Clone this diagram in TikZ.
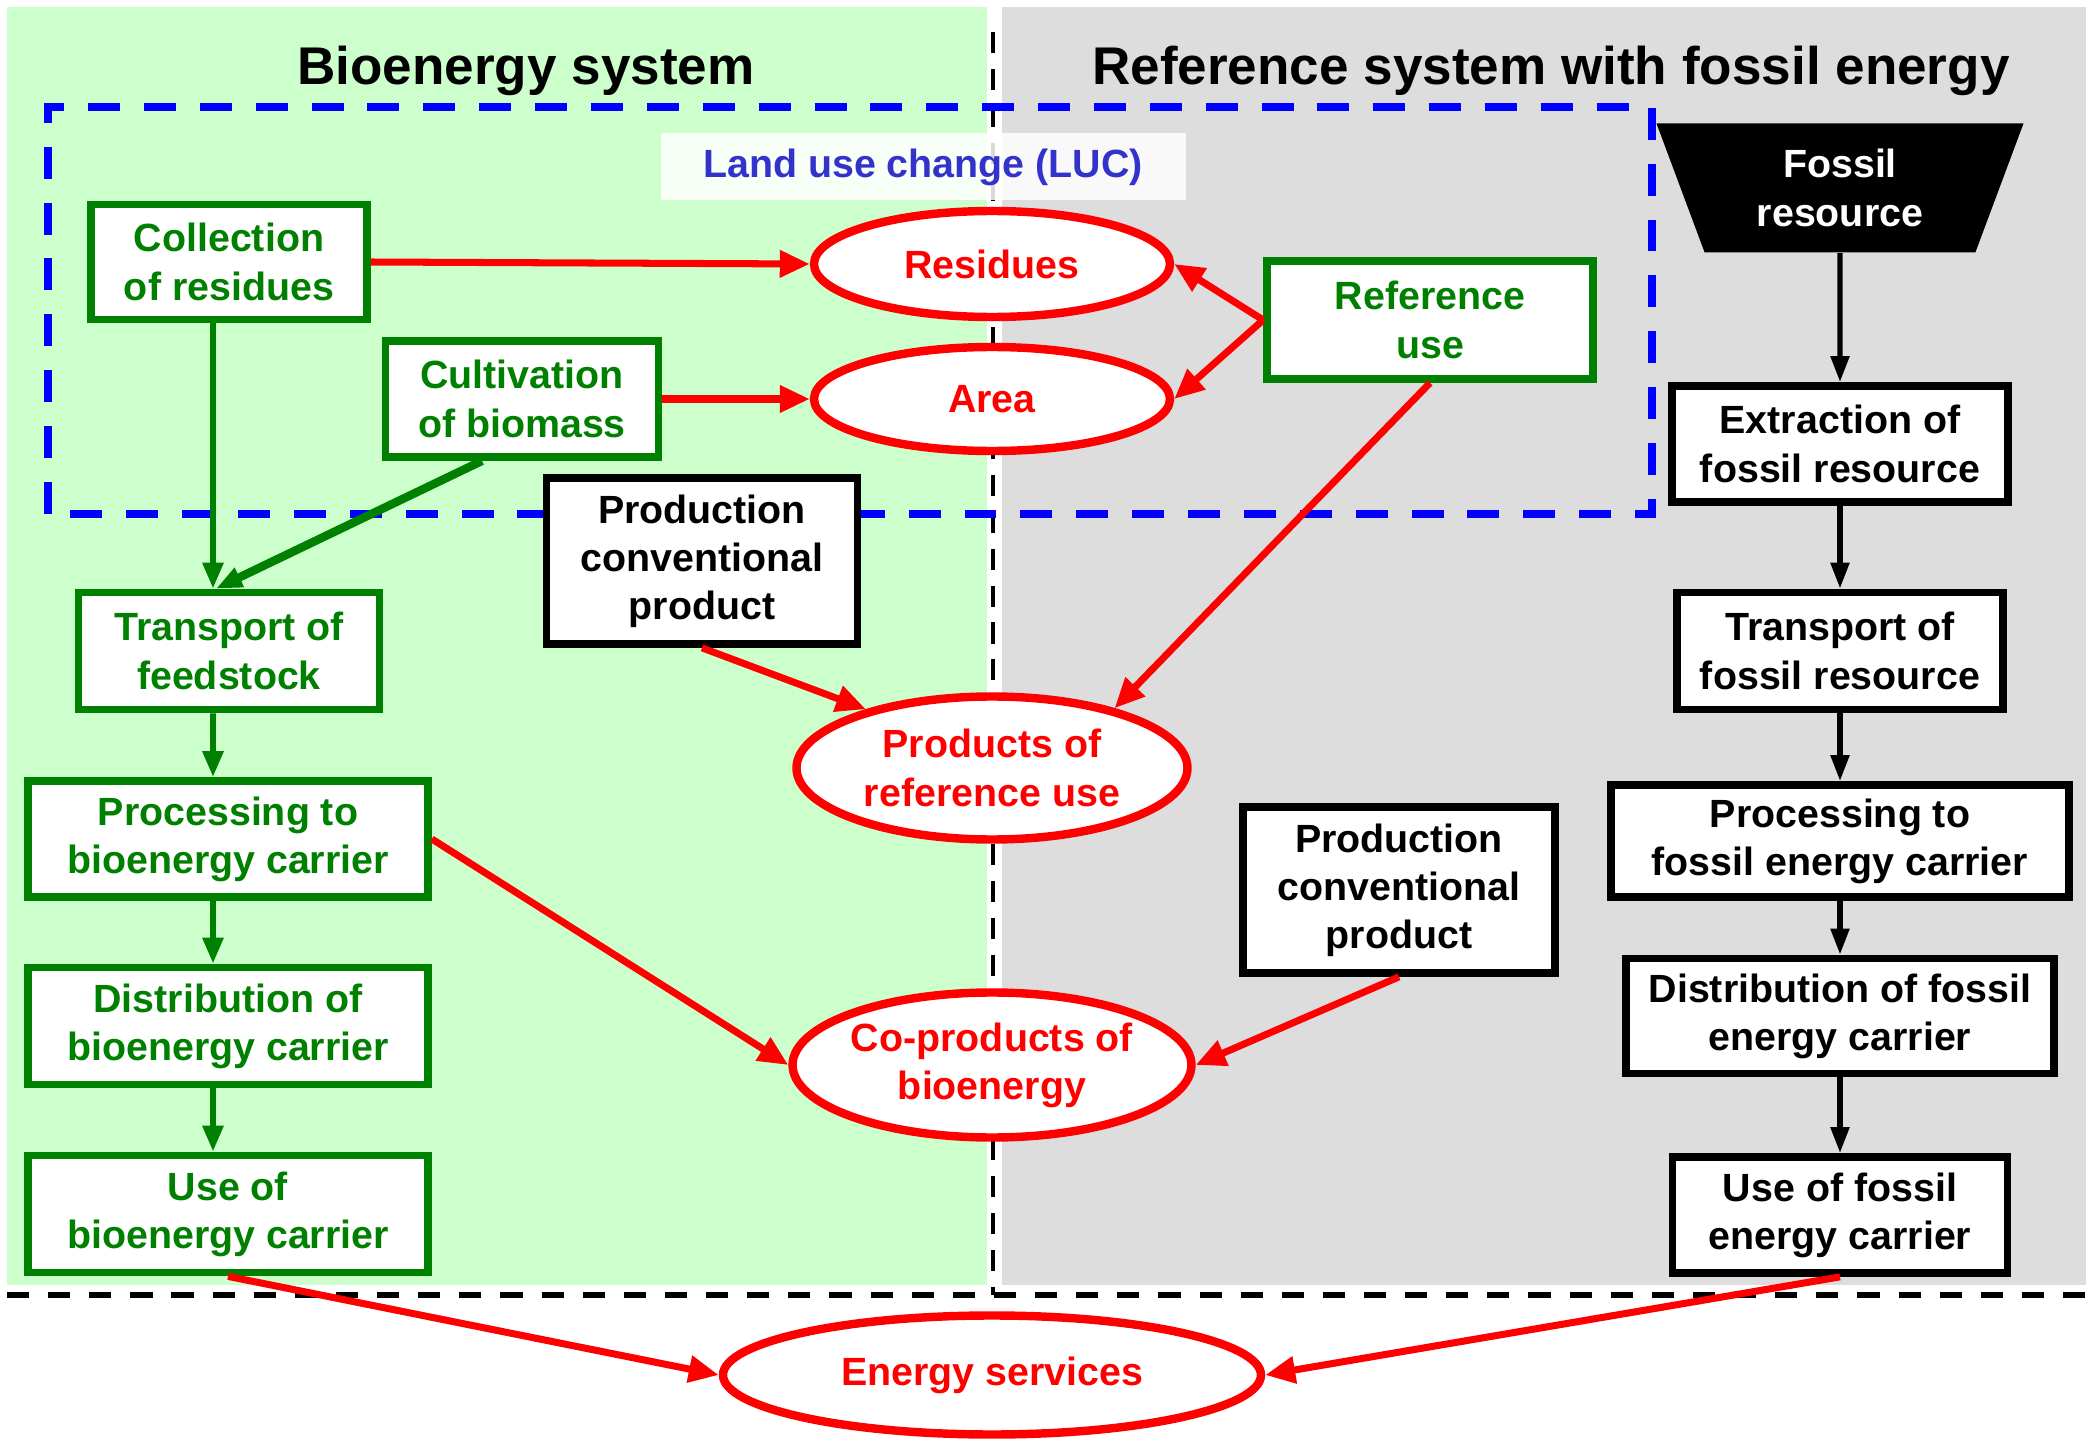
\documentclass[tikz,border=0pt]{standalone}
\usepackage{fontspec}
\setmainfont{Liberation Sans}
\usetikzlibrary{shapes.geometric,arrows.meta}
\definecolor{biogreen}{RGB}{0,128,0}
\definecolor{biobg}{RGB}{204,255,204}
\definecolor{refbg}{RGB}{221,221,221}
\definecolor{lucblue}{RGB}{51,51,204}
\tikzset{
	boxtext/.style={font=\bfseries\fontsize{11.2}{13.7}\selectfont, align=center},
	headtext/.style={font=\bfseries\fontsize{15.1}{18}\selectfont},
	greenbox/.style={boxtext, draw=biogreen, text=biogreen, fill=white, line width=2.2pt, inner sep=0pt},
	blackbox/.style={boxtext, draw=black, fill=white, line width=2.2pt, inner sep=0pt},
	redoval/.style={boxtext, ellipse, draw=red, text=red, fill=white, line width=2.4pt, inner sep=0pt},
	redarrow/.style={red, line width=2pt, -{Triangle[length=0.3cm,width=0.26cm]}},
	greenarrow/.style={biogreen, line width=1.7pt, -{Triangle[length=0.26cm,width=0.2cm]}},
	blackarrow/.style={black, line width=1.5pt, -{Triangle[length=0.26cm,width=0.18cm]}}
}
\begin{document}
\begin{tikzpicture}[line cap=butt,line join=miter,x=1.0cm,y=1.0cm]
			\useasboundingbox (0,0) rectangle (21,14.42);
			% backgrounds
			\fill[biobg] (0.07,1.57) rectangle (9.87,14.35);
			\fill[refbg] (10.02,1.57) rectangle (20.86,14.35);
			\draw [line width=1.3pt,dash pattern=on 6pt off 4.5pt] (9.93,14.1)-- (9.93,1.47);
			\draw [line width=1.8pt,dash pattern=on 6.3pt off 5.4pt] (0.07,1.47)-- (20.86,1.47);
			\draw [blue,line width=2.1pt,dash pattern=on 9.1pt off 6.8pt] (0.48,9.28) rectangle (16.52,13.35);
			% headings
			\node[headtext] (biohead) at (5.26,13.71) {Bioenergy system};
			\node[headtext] (refhead) at (15.51,13.71) {Reference system with fossil energy};
			\node[boxtext, fill=white, fill opacity=0.85, text opacity=1, text=lucblue, minimum width=5.25cm, minimum height=0.67cm] (luc) at (9.23,12.75) {Land use change (LUC)};
			% bioenergy chain
			\node[greenbox, minimum width=2.76cm, minimum height=1.15cm] (coll) at (2.29,11.80) {Collection\\of residues};
			\node[greenbox, minimum width=2.73cm, minimum height=1.16cm] (cult) at (5.22,10.43) {Cultivation\\of biomass};
			\node[greenbox, minimum width=3.01cm, minimum height=1.17cm] (transp) at (2.29,7.91) {Transport of\\feedstock};
			\node[greenbox, minimum width=4.00cm, minimum height=1.16cm] (procb) at (2.28,6.03) {Processing to\\bioenergy carrier};
			\node[greenbox, minimum width=4.00cm, minimum height=1.17cm] (distb) at (2.28,4.16) {Distribution of\\bioenergy carrier};
			\node[greenbox, minimum width=4.00cm, minimum height=1.17cm] (useb) at (2.28,2.28) {Use of\\bioenergy carrier};
			\node[greenbox, minimum width=3.26cm, minimum height=1.18cm] (refuse) at (14.30,11.22) {Reference\\use};
			% conventional products
			\node[blackbox, minimum width=3.11cm, minimum height=1.66cm] (prodA) at (7.02,8.81) {Production\\conventional\\product};
			\node[blackbox, minimum width=3.12cm, minimum height=1.66cm] (prodB) at (13.99,5.52) {Production\\conventional\\product};
			% fossil chain
			\node[boxtext, trapezium, shape border rotate=180, trapezium angle=58, trapezium stretches body, fill=black, text=white, inner sep=0pt, minimum width=3.67cm, minimum height=1.29cm] (fossil) at (18.40,12.54) {Fossil\\resource};
			\node[blackbox, minimum width=3.36cm, minimum height=1.16cm] (extr) at (18.40,9.98) {Extraction of\\fossil resource};
			\node[blackbox, minimum width=3.26cm, minimum height=1.17cm] (transf) at (18.40,7.91) {Transport of\\fossil resource};
			\node[blackbox, minimum width=4.58cm, minimum height=1.12cm] (procf) at (18.40,6.01) {Processing to\\fossil energy carrier};
			\node[blackbox, minimum width=4.28cm, minimum height=1.15cm] (distf) at (18.40,4.26) {Distribution of fossil\\energy carrier};
			\node[blackbox, minimum width=3.35cm, minimum height=1.16cm] (usef) at (18.40,2.27) {Use of fossil\\energy carrier};
			% products (ellipses)
			\node[redoval, minimum width=3.56cm, minimum height=1.06cm] (resid) at (9.92,11.78) {Residues};
			\node[redoval, minimum width=3.56cm, minimum height=1.04cm] (area) at (9.92,10.43) {Area};
			\node[redoval, minimum width=3.91cm, minimum height=1.43cm] (prodref) at (9.92,6.74) {Products of\\reference use};
			\node[redoval, minimum width=3.91cm, minimum height=1.45cm] (coprod) at (9.92,3.77) {Co-products of\\bioenergy};
			\node[redoval, minimum width=5.38cm, minimum height=1.19cm] (energy) at (9.92,0.67) {Energy services};
			% green flows
			\draw[greenarrow] ([xshift=-0.16cm]coll.south)-- ([xshift=-0.16cm]transp.north);
			\draw[greenarrow, line width=2.4pt] ([xshift=-0.4cm]cult.south)-- ([xshift=-0.13cm]transp.north);
			\draw[greenarrow] ([xshift=-0.16cm]transp.south)-- ([xshift=-0.15cm]procb.north);
			\draw[greenarrow] ([xshift=-0.15cm]procb.south)-- ([xshift=-0.15cm]distb.north);
			\draw[greenarrow] ([xshift=-0.15cm]distb.south)-- ([xshift=-0.15cm]useb.north);
			% black flows
			\draw[blackarrow] (fossil.south)-- (extr.north);
			\draw[blackarrow] (extr.south)-- (transf.north);
			\draw[blackarrow] (transf.south)-- (procf.north);
			\draw[blackarrow] (procf.south)-- (distf.north);
			\draw[blackarrow] (distf.south)-- (usef.north);
			% red flows
			\draw[redarrow] (coll.east)-- (resid.west);
			\draw[redarrow] (cult.east)-- (area.west);
			\draw[redarrow] (refuse.west)-- (resid.east);
			\draw[redarrow] (refuse.west)-- (area.east);
			\draw[redarrow] (refuse.south)-- (prodref.26);
			\draw[redarrow] (prodA.south)-- (prodref.155);
			\draw[redarrow] (procb.east)-- (coprod.west);
			\draw[redarrow] (prodB.south)-- (coprod.east);
			\draw[redarrow] (useb.south)-- (energy.west);
			\draw[redarrow] (usef.south)-- (energy.east);
\end{tikzpicture}
\end{document}
